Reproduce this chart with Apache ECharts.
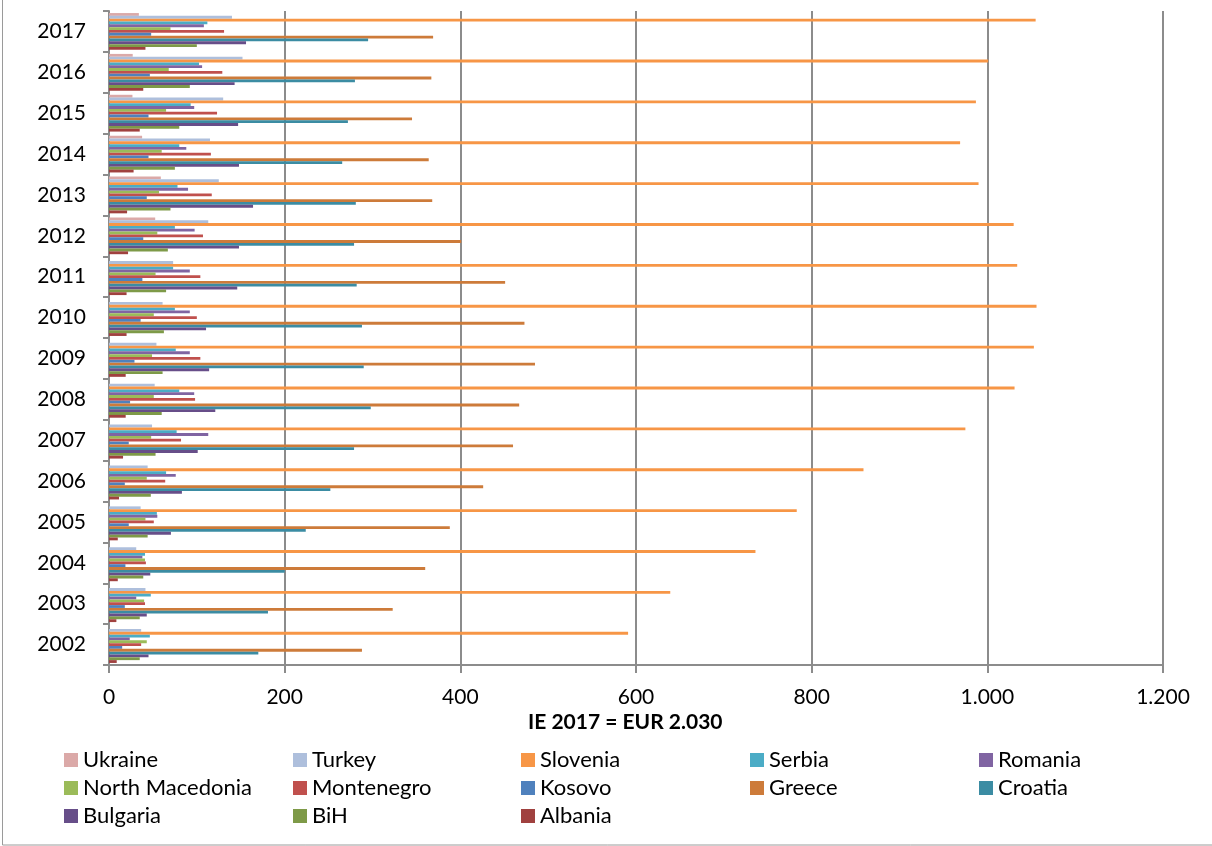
<!DOCTYPE html>
<html>
<head>
<meta charset="utf-8">
<script src="https://cdn.jsdelivr.net/npm/echarts@6/dist/echarts.min.js"></script>
<style>
html,body{margin:0;padding:0;background:#fff;}
#chart{width:1212px;height:846px;}
</style>
</head>
<body>
<div id="chart"></div>
<script>
// ---- data ----
const years = ['2002','2003','2004','2005','2006','2007','2008','2009','2010','2011','2012','2013','2014','2015','2016','2017'];
const xTicks = [0, 200, 400, 600, 800, 1000, 1200];
const axisTitle = 'IE 2017 = EUR 2.030';

const ukraine        = [null, null, null, null, null, null, null, null, null, null, 52.6, 59, 37.7, 26.7, 27, 34];
const turkey         = [36.6, 41.5, 31, 36, 44, 49, 52, 54, 61, 73, 113, 125, 115, 130, 152, 140];
const slovenia       = [591, 639, 736, 783, 859, 975, 1031, 1053, 1056, 1034, 1030, 990, 969, 987, 1001, 1055];
const serbia         = [46.5, 47.6, 41, 54.5, 65, 77, 80, 76, 75, 73, 75, 78, 80, 93, 102.5, 112];
const romania        = [23.6, 31, 38, 55, 76, 113, 97, 92, 92, 92, 97.5, 90, 88, 97, 106, 108];
const northMacedonia = [43, 40, 41, 41.5, 43, 48, 51, 49, 51, 53, 55, 57, 60, 65, 68, 70];
const montenegro     = [36.6, 41, 42, 51, 64, 82, 98, 104, 100, 104, 107, 117, 116, 123, 129, 131];
const kosovo         = [15, 18, 18.7, 22.5, 18, 22.5, 24, 29, 36, 38, 39, 43, 45, 45, 46.5, 48];
const greece         = [288, 323, 360, 388, 426, 460, 467, 485, 473, 451, 401, 368, 364, 345, 367, 369];
const croatia        = [170, 181, 200, 224, 252, 279, 298, 290, 288, 282, 279, 281, 265.5, 272, 280, 295];
const bulgaria       = [45, 43, 47, 70.5, 83, 101, 121, 114, 110.5, 146, 148, 164, 148, 147, 143, 156];
const bih            = [35, 35, 39, 44, 47.6, 53, 60, 61, 62.5, 65, 67, 70, 75, 80, 92, 100];
const albania        = [8.8, 8.4, 10, 10, 11.4, 16, 19, 19, 20, 20, 21.7, 20.6, 28, 35, 39, 41.5];

const seriesNames = ['Ukraine','Turkey','Slovenia','Serbia','Romania','North Macedonia','Montenegro','Kosovo','Greece','Croatia','Bulgaria','BiH','Albania'];
const seriesData  = [ukraine, turkey, slovenia, serbia, romania, northMacedonia, montenegro, kosovo, greece, croatia, bulgaria, bih, albania];
const seriesColors = ['#DBA9A8','#AEBFDC','#F79646','#4BACC6','#8064A2','#9BBB59','#C0504D','#4F81BD','#CD7B3A','#3B8CA3','#674E89','#7E9A48','#A0413F'];

// legend columns (row-major reading order of the reference legend)
const legendColumns = [
  ['Ukraine','North Macedonia','Bulgaria'],
  ['Turkey','Montenegro','BiH'],
  ['Slovenia','Kosovo','Albania'],
  ['Serbia','Greece'],
  ['Romania','Croatia']
];
const legendLefts = [64, 293, 521, 750, 979];

const FONT = 'Lato, "Open Sans", sans-serif';
const GRAY = '#8c8c8c';

const chart = echarts.init(document.getElementById('chart'), null, {renderer:'canvas'});

const series = seriesNames.map((n, i) => ({
  name: n,
  type: 'bar',
  data: seriesData[i],
  barGap: '0%',
  barCategoryGap: '10%',
  itemStyle: {color: seriesColors[i]},
  emphasis: {disabled: true},
  animation: false
}));

const legends = legendColumns.map((col, i) => ({
  orient: 'vertical',
  left: legendLefts[i],
  top: 746,
  data: col,
  icon: 'rect',
  itemWidth: 14,
  itemHeight: 14,
  itemGap: 0,
  padding: 0,
  selectedMode: false,
  textStyle: {fontFamily: FONT, fontSize: 22, color: '#000', lineHeight: 28}
}));

chart.setOption({
  backgroundColor: '#fff',
  animation: false,
  title: {
    text: axisTitle,
    left: 528,
    top: 712,
    padding: 0,
    textStyle: {fontFamily: FONT, fontSize: 21, fontWeight: 'bold', color: '#000'}
  },
  legend: legends,
  grid: {left: 109, right: 49, top: 11, bottom: 181, containLabel: false},
  xAxis: {
    type: 'value',
    min: xTicks[0],
    max: xTicks[xTicks.length - 1],
    interval: xTicks[1] - xTicks[0],
    axisLine: {show: true, lineStyle: {color: GRAY, width: 2}},
    axisTick: {show: true, length: 8, lineStyle: {color: GRAY, width: 2}},
    splitLine: {show: true, lineStyle: {color: GRAY, width: 2}},
    axisLabel: {
      margin: 22,
      fontFamily: FONT, fontSize: 21, color: '#000',
      formatter: v => String(v).replace(/\B(?=(\d{3})+(?!\d))/g, '.')
    }
  },
  yAxis: {
    type: 'category',
    data: years,
    axisLine: {show: true, lineStyle: {color: GRAY, width: 2}},
    axisTick: {show: true, length: 6, lineStyle: {color: GRAY, width: 2}},
    axisLabel: {margin: 23, fontFamily: FONT, fontSize: 21, color: '#000'}
  },
  graphic: [{
    type: 'rect',
    shape: {x: 2.5, y: -2, width: 1215, height: 847},
    style: {fill: 'none', stroke: '#9a9a9a', lineWidth: 1},
    silent: true
  }],
  series: series
});
</script>
</body>
</html>
